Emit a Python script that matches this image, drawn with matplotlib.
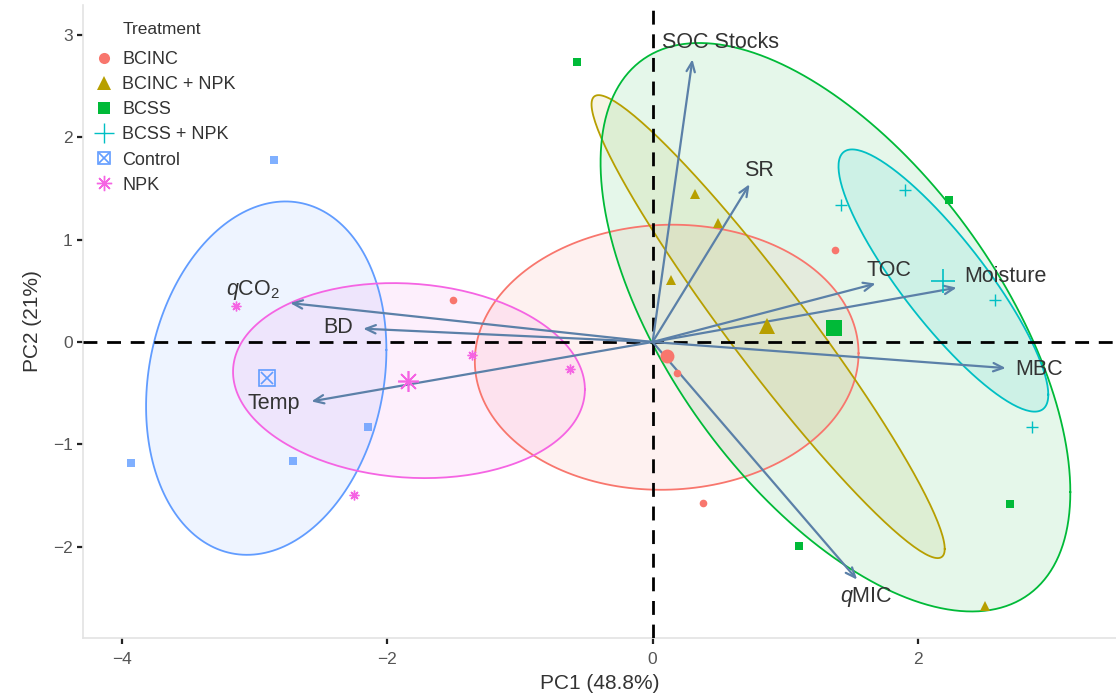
import numpy as np
import matplotlib.pyplot as plt
from matplotlib.lines import Line2D
from matplotlib.legend_handler import HandlerTuple

plt.rcParams['font.family'] = ['Liberation Sans', 'DejaVu Sans']
plt.rcParams['mathtext.fontset'] = 'custom'
plt.rcParams['mathtext.rm'] = 'Liberation Sans'
plt.rcParams['mathtext.it'] = 'Liberation Sans:italic'

treatments = ['BCINC', 'BCINC + NPK', 'BCSS', 'BCSS + NPK', 'Control', 'NPK']
colors = ['#F8766D', '#B79F00', '#00BA38', '#00BFC4', '#619CFF', '#F564E3']

# sample scores (4 replicates per treatment)
bcinc_pc1 = [-1.50, 1.37, 0.38, 0.18]
bcinc_pc2 = [0.41, 0.90, -1.57, -0.30]
bcinc_npk_pc1 = [0.32, 0.49, 0.14, 2.50]
bcinc_npk_pc2 = [1.44, 1.16, 0.61, -2.58]
bcss_pc1 = [-0.57, 2.23, 2.69, 1.10]
bcss_pc2 = [2.73, 1.39, -1.58, -1.99]
bcss_npk_pc1 = [1.42, 1.90, 2.58, 2.86]
bcss_npk_pc2 = [1.34, 1.48, 0.41, -0.83]
control_pc1 = [-2.85, -2.14, -2.71, -3.93]
control_pc2 = [1.78, -0.83, -1.16, -1.18]
npk_pc1 = [-3.14, -1.36, -0.62, -2.25]
npk_pc2 = [0.35, -0.13, -0.26, -1.49]

scores_pc1 = [bcinc_pc1, bcinc_npk_pc1, bcss_pc1, bcss_npk_pc1, control_pc1, npk_pc1]
scores_pc2 = [bcinc_pc2, bcinc_npk_pc2, bcss_pc2, bcss_npk_pc2, control_pc2, npk_pc2]

# ellipse per treatment: centre, half extents and correlation
ell_cx = [0.106, 0.87, 1.377, 2.19, -2.91, -1.835]
ell_cy = [-0.149, 0.15, 0.144, 0.60, -0.353, -0.377]
ell_hx = [1.445, 1.33, 1.769, 0.79, 0.905, 1.325]
ell_hy = [1.294, 2.26, 2.775, 1.28, 1.725, 0.952]
ell_r = [0.03, -0.96, -0.58, -0.87, 0.16, -0.09]

# variable loadings
var_labels = ['SOC Stocks', 'SR', 'TOC', 'Moisture', 'MBC', r'$q$MIC',
              r'$q$CO$_2$', 'BD', 'Temp']
var_pc1 = [0.30, 0.73, 1.68, 2.29, 2.66, 1.54, -2.73, -2.18, -2.57]
var_pc2 = [2.76, 1.54, 0.57, 0.53, -0.255, -2.32, 0.38, 0.13, -0.58]
lab_pc1 = [0.51, 0.80, 1.78, 2.66, 2.91, 1.61, -3.01, -2.37, -2.85]
lab_pc2 = [2.92, 1.67, 0.70, 0.64, -0.27, -2.49, 0.51, 0.14, -0.60]

small_marks = [
    dict(marker='o', ms=5.5, mew=0),
    dict(marker='^', ms=6.5, mew=0),
    dict(marker='s', ms=5.5, mew=0),
    dict(marker='+', ms=8, mew=1.0),
    dict(marker='s', ms=5.5, mew=0, alpha=0.8),
    dict(marker=(8, 2, 0), ms=7, mew=1.0),
]
big_marks = [
    dict(marker='o', ms=10, mew=0),
    dict(marker='^', ms=12, mew=0),
    dict(marker='s', ms=11, mew=0),
    dict(marker='+', ms=17, mew=1.2),
    None,
    dict(marker=(8, 2, 0), ms=15, mew=1.2),
]

fig = plt.figure(figsize=(11.16, 6.93), dpi=100)
ax = fig.add_axes([83 / 1116, 1 - 638 / 693, 1 - 83 / 1116, (638 - 5) / 693])

t = np.linspace(0, 2 * np.pi, 200)
for i in range(len(treatments)):
    ex = ell_cx[i] + ell_hx[i] * np.cos(t)
    ey = ell_cy[i] + ell_hy[i] * (ell_r[i] * np.cos(t) + np.sqrt(1 - ell_r[i] ** 2) * np.sin(t))
    ax.fill(ex, ey, color=colors[i], alpha=0.1, lw=0, zorder=1)
    ax.plot(ex, ey, color=colors[i], lw=1.3, zorder=2)

ax.axhline(0, color='black', lw=2, ls=(0, (5, 3.5)), zorder=3)
ax.axvline(0, color='black', lw=2, ls=(0, (5, 3.5)), zorder=3)

for i in range(len(treatments)):
    ax.plot(scores_pc1[i], scores_pc2[i], ls='', color=colors[i], zorder=5, **small_marks[i])
    mx, my = np.mean(scores_pc1[i]), np.mean(scores_pc2[i])
    if big_marks[i] is None:
        ax.plot(mx, my, ls='', marker='s', ms=11, mfc='none', mec=colors[i], mew=1.2, zorder=5)
        ax.plot(mx, my, ls='', marker='x', ms=8, color=colors[i], mew=1.2, zorder=5)
    else:
        ax.plot(mx, my, ls='', color=colors[i], zorder=5, **big_marks[i])

for i in range(len(var_labels)):
    ax.annotate('', xy=(var_pc1[i], var_pc2[i]), xytext=(0, 0),
                arrowprops=dict(arrowstyle='->,head_length=0.7,head_width=0.3',
                                color='#5B80A8', lw=1.6, shrinkA=0, shrinkB=0),
                zorder=4)
    ax.text(lab_pc1[i], lab_pc2[i], var_labels[i], fontsize=15.5, color='#333333',
            ha='center', va='center', zorder=6)

ax.set_xlim(-4.29, 3.49)
ax.set_ylim(-2.89, 3.29)
ax.set_xticks([-4, -2, 0, 2])
ax.set_yticks([-2, -1, 0, 1, 2, 3])
ax.set_xticklabels(['\u22124', '\u22122', '0', '2'])
ax.set_yticklabels(['\u22122', '\u22121', '0', '1', '2', '3'])
ax.tick_params(length=4, width=1.6, color='#222222', labelcolor='#555555', labelsize=12.5)
ax.tick_params(axis='x', pad=6)
for s in ['top', 'right']:
    ax.spines[s].set_visible(False)
for s in ['left', 'bottom']:
    ax.spines[s].set_color('#E3E3E3')
    ax.spines[s].set_linewidth(1.2)
ax.set_xlabel('PC1 (48.8%)', fontsize=15, color='#333333', labelpad=5)
ax.set_ylabel('PC2 (21%)', fontsize=15, color='#333333', labelpad=8)

handles = [
    Line2D([], [], ls='', marker='o', ms=8, color=colors[0], mew=0),
    Line2D([], [], ls='', marker='^', ms=10, color=colors[1], mew=0),
    Line2D([], [], ls='', marker='s', ms=9, color=colors[2], mew=0),
    Line2D([], [], ls='', marker='+', ms=14, color=colors[3], mew=1.0),
    (Line2D([], [], ls='', marker='s', ms=9, mfc='none', mec=colors[4], mew=1.2),
     Line2D([], [], ls='', marker='x', ms=7, color=colors[4], mew=1.2)),
    Line2D([], [], ls='', marker=(8, 2, 0), ms=11, color=colors[5], mew=1.0),
]
leg = ax.legend(handles, treatments, loc='upper left',
                bbox_to_anchor=(86 / 1116, 1 - 42 / 693), bbox_transform=fig.transFigure,
                frameon=False, fontsize=13, borderpad=0,
                handlelength=1.0, handletextpad=0.5, labelspacing=0.45,
                handler_map={tuple: HandlerTuple(ndivide=1)})
for txt in leg.get_texts():
    txt.set_color('#333333')
leg.set_zorder(7)
fig.text(123 / 1116, 1 - 30 / 693, 'Treatment', fontsize=12.5, color='#333333',
         ha='left', va='center')

fig.savefig('out.png', dpi=100)
